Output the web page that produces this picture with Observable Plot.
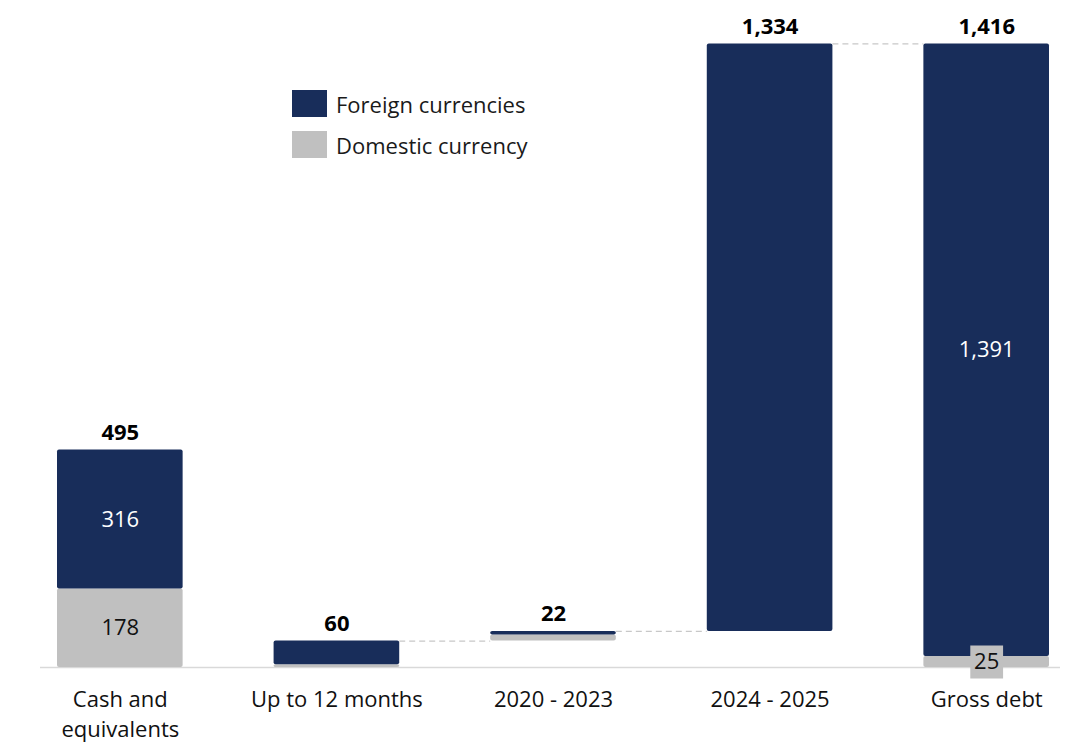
<!DOCTYPE html>
<html><head><meta charset="utf-8">
<script src="https://cdn.jsdelivr.net/npm/d3@7"></script>
<script src="https://cdn.jsdelivr.net/npm/@observablehq/plot@0.6"></script>
<style>
body{margin:0;background:#fff;font-family:"Open Sans", sans-serif;}
#wrap{position:relative;width:1077px;height:744px;}
#legend{position:absolute;left:292px;top:90px;font-size:22px;color:#1a1a1a;}
.row{display:flex;align-items:center;height:27px;margin-bottom:14px}
.sw{width:35px;height:27px;margin-right:9px}
</style></head><body><div id="wrap"><div id="chart"></div><div id="legend"></div></div>
<script>
const categories = ["Cash and equivalents","Up to 12 months","2020 - 2023","2024 - 2025","Gross debt"];
const tickLabels = ["Cash and\nequivalents","Up to 12 months","2020 - 2023","2024 - 2025","Gross debt"];
const foreign = [316, 54, 8, 1334, 1391];
const domestic = [178, 6, 14, 0, 25];
const totals = [495, 60, 22, 1334, 1416];
const kinds = ["stock","debt","debt","debt","stock"];
const seriesNames = ["Foreign currencies","Domestic currency"];
const colors = ["#182d5a","#c0c0c0"];

// build segments (waterfall for debt buckets)
let running = 0;
const segments = [], totalLabels = [], innerLabels = [], connectors = [];
categories.forEach((c, i) => {
  const base = kinds[i] === "debt" ? running : 0;
  const d0 = base, d1 = base + domestic[i], f1 = d1 + foreign[i];
  if (domestic[i] > 0) segments.push({cat: c, series: seriesNames[1], y1: d0, y2: d1});
  segments.push({cat: c, series: seriesNames[0], y1: d1, y2: f1});
  totalLabels.push({cat: c, y: f1, label: d3.format(",")(totals[i])});
  if (kinds[i] === "stock") {
    innerLabels.push({cat: c, y: (d1 + f1) / 2, label: d3.format(",")(foreign[i]), fill: "white", box: false});
    innerLabels.push({cat: c, y: (d0 + d1) / 2, label: d3.format(",")(domestic[i]), fill: "#111", box: domestic[i] < 60});
  }
  if (kinds[i] === "debt") {
    running += domestic[i] + foreign[i];
    connectors.push({from: c, to: categories[i + 1], y: f1});
  }
});

const xOpts = {type: "band", domain: categories, range: [57, 1049], paddingInner: 0.42, paddingOuter: 0, round: false};
const bw = Plot.scale({x: xOpts}).bandwidth;
const font = "'Open Sans', sans-serif";

const plot = Plot.plot({
  width: 1077, height: 744,
  marginLeft: 40, marginRight: 17, marginTop: 43.4, marginBottom: 77,
  style: {fontFamily: font, background: "white"},
  x: {...xOpts, label: null},
  y: {domain: [0, 1416], range: [667, 43.4], axis: null},
  color: {domain: seriesNames, range: colors},
  marks: [
    Plot.ruleY(connectors, {x1: "from", x2: "to", y: "y", insetLeft: bw, insetRight: bw, stroke: "#c8c8c8", strokeDasharray: "6,4", strokeWidth: 1.2}),
    Plot.ruleY([0], {stroke: "#d9d9d9", strokeWidth: 1.5}),
    Plot.rectY(segments, {x: "cat", y1: "y1", y2: "y2", fill: "series", rx: 2}),
    Plot.dot(innerLabels.filter(d => d.box), {x: "cat", y: "y", symbol: "square", r: 18.5, fill: "#c0c0c0"}),
    Plot.text(innerLabels, {x: "cat", y: "y", text: "label", fill: "fill", fontSize: 22}),
    Plot.text(totalLabels, {x: "cat", y: "y", text: "label", fill: "#000", fontSize: 22, fontWeight: "bold", lineAnchor: "bottom", dy: -10}),
    Plot.axisX({tickSize: 0, tickPadding: 18, fontSize: 22, fill: "#111", lineHeight: 1.36, tickFormat: d => tickLabels[categories.indexOf(d)], label: null})
  ]
});
document.getElementById("chart").appendChild(plot);

const legend = document.getElementById("legend");
seriesNames.forEach((s, i) => {
  const row = document.createElement("div"); row.className = "row";
  const sw = document.createElement("div"); sw.className = "sw"; sw.style.background = colors[i];
  const t = document.createElement("span"); t.textContent = s;
  row.appendChild(sw); row.appendChild(t); legend.appendChild(row);
});
</script></body></html>
